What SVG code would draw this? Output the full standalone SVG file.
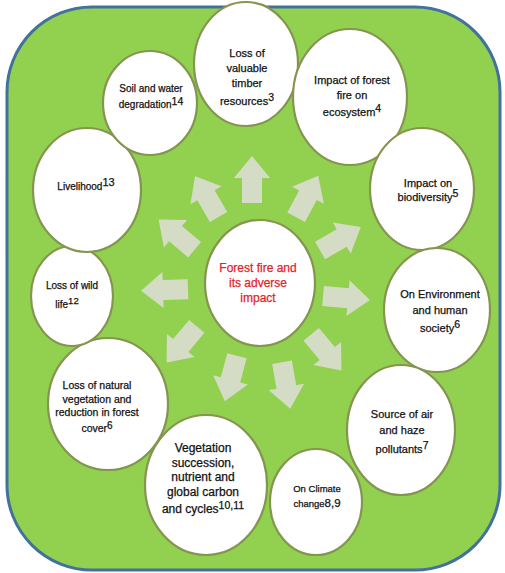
<svg xmlns="http://www.w3.org/2000/svg" xmlns:xlink="http://www.w3.org/1999/xlink" width="505" height="573" viewBox="0 0 505 573">
<style>
.bub{fill:#ffffff;stroke:#84954f;stroke-width:2.2}
.t{font-family:"Liberation Sans",Arial,sans-serif;font-size:11px;fill:#111111;stroke:#111111;stroke-width:0.25;text-anchor:middle}
.s{font-size:10.5px}
.c{fill:#e3222c;stroke:#e3222c;font-size:12px}
.arr{fill:#d5dcc6}
</style>
<defs>
<path id="arr" d="M0,-24 L18,-2 L10,-2 L10,23 L-10,23 L-10,-2 L-18,-2 Z"/>
</defs>
<rect x="7" y="7" width="493" height="563" rx="85" ry="85" fill="#92d050" stroke="#41719c" stroke-width="3"/>
<g id="connectors" class="arr">
<use xlink:href="#arr" transform="translate(252,180) rotate(0)"/>
<use xlink:href="#arr" transform="translate(307,197) rotate(28)"/>
<use xlink:href="#arr" transform="translate(340,239) rotate(60)"/>
<use xlink:href="#arr" transform="translate(346,298) rotate(95)"/>
<use xlink:href="#arr" transform="translate(326,352) rotate(140)"/>
<use xlink:href="#arr" transform="translate(286,385) rotate(170)"/>
<use xlink:href="#arr" transform="translate(231,378) rotate(195)"/>
<use xlink:href="#arr" transform="translate(182,344) rotate(220)"/>
<use xlink:href="#arr" transform="translate(165,290) rotate(268)"/>
<use xlink:href="#arr" transform="translate(177,235) rotate(-50)"/>
<use xlink:href="#arr" transform="translate(207,197) rotate(-30)"/>
</g>
<g id="center">
<ellipse class="bub" cx="260" cy="283" rx="55" ry="63"/>
<text class="t c" x="258" y="272">Forest fire and</text>
<text class="t c" x="258" y="287">its adverse</text>
<text class="t c" x="258" y="302">impact</text>
</g>
<g id="n3">
<ellipse class="bub" cx="246" cy="64" rx="52" ry="62"/>
<text class="t" x="247" y="57">Loss of</text>
<text class="t" x="247" y="72">valuable</text>
<text class="t" x="247" y="87">timber</text>
<text class="t" x="247" y="105">resources<tspan class="s" dy="-4">3</tspan></text>
</g>
<g id="n4">
<ellipse class="bub" cx="350" cy="97" rx="57" ry="68"/>
<text class="t" x="352" y="84">Impact of forest</text>
<text class="t" x="352" y="99">fire on</text>
<text class="t" x="352" y="116">ecosystem<tspan class="s" dy="-4">4</tspan></text>
</g>
<g id="n5">
<ellipse class="bub" cx="422" cy="189" rx="52" ry="61"/>
<text class="t" x="428" y="187">Impact on</text>
<text class="t" x="428" y="201">biodiversity<tspan class="s" dy="-4">5</tspan></text>
</g>
<g id="n6a">
<ellipse class="bub" cx="437" cy="310" rx="53" ry="62"/>
<text class="t" x="440" y="298">On Environment</text>
<text class="t" x="440" y="314">and human</text>
<text class="t" x="440" y="332">society<tspan class="s" dy="-4">6</tspan></text>
</g>
<g id="n7">
<ellipse class="bub" cx="401" cy="430" rx="54" ry="65"/>
<text class="t" x="402" y="418">Source of air</text>
<text class="t" x="402" y="434">and haze</text>
<text class="t" x="402" y="453">pollutants<tspan class="s" dy="-4">7</tspan></text>
</g>
<g id="n89">
<ellipse class="bub" cx="316" cy="502" rx="46" ry="53"/>
<text class="t" x="317" y="492" style="font-size:9.5px">On Climate</text>
<text class="t" x="317" y="507" style="font-size:9.5px">change<tspan style="font-size:11.5px">8,9</tspan></text>
</g>
<g id="n1011">
<ellipse class="bub" cx="206" cy="485" rx="61" ry="70"/>
<text class="t" x="203" y="452" style="font-size:12px">Vegetation</text>
<text class="t" x="203" y="467" style="font-size:12px">succession,</text>
<text class="t" x="203" y="481" style="font-size:12px">nutrient  and</text>
<text class="t" x="203" y="496" style="font-size:12px">global carbon</text>
<text class="t" x="203" y="513" style="font-size:12px">and cycles<tspan class="s" dy="-4" style="font-size:10.5px">10,11</tspan></text>
</g>
<g id="n6b">
<ellipse class="bub" cx="108" cy="404" rx="60" ry="66"/>
<text class="t" x="97" y="389" style="font-size:10.5px">Loss of natural</text>
<text class="t" x="97" y="403" style="font-size:10.5px">vegetation and</text>
<text class="t" x="97" y="416" style="font-size:10.5px">reduction in forest</text>
<text class="t" x="97" y="432" style="font-size:10.5px">cover<tspan class="s" dy="-3" style="font-size:10px">6</tspan></text>
</g>
<g id="n12">
<ellipse class="bub" cx="72" cy="296" rx="41" ry="50"/>
<text class="t" x="72" y="289" style="font-size:10px">Loss of wild</text>
<text class="t" x="67" y="308" style="font-size:10px">life<tspan class="s" dy="-4" style="font-size:9.5px">12</tspan></text>
</g>
<g id="n13">
<ellipse class="bub" cx="87" cy="190" rx="54" ry="62"/>
<text class="t" x="86" y="190" style="font-size:10px">Livelihood<tspan class="s" dy="-4" style="font-size:11px">13</tspan></text>
</g>
<g id="n14">
<ellipse class="bub" cx="150" cy="103" rx="47" ry="52"/>
<text class="t" x="151" y="92" style="font-size:10px">Soil and water</text>
<text class="t" x="151" y="108" style="font-size:10px">degradation<tspan class="s" dy="-3" style="font-size:10.5px">14</tspan></text>
</g>
</svg>
